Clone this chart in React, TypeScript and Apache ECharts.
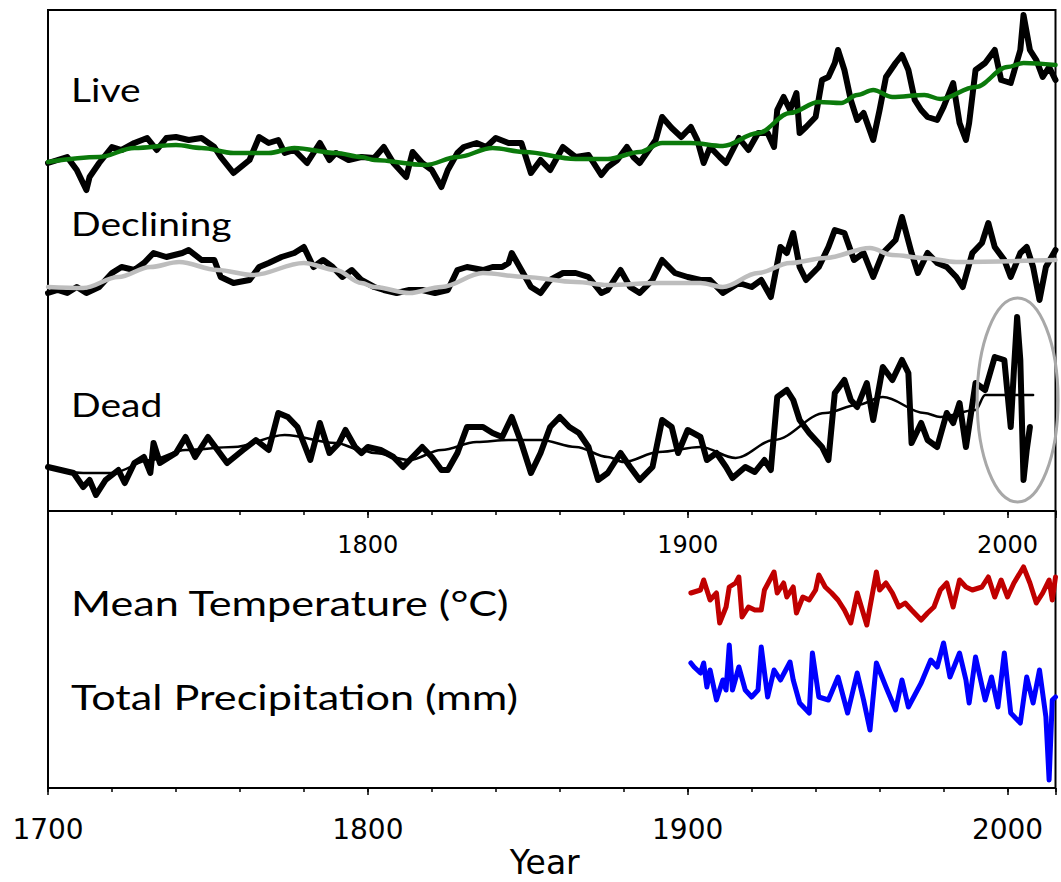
import React, { useEffect, useRef } from "react";
import * as echarts from "echarts";

// Ring-width index chronologies by tree status: [year, index]
const liveRwi: [number, number][] = [
  [1700, 0.985], [1706, 1.015], [1709, 0.95], [1712, 0.85], [1713, 0.915], [1716, 0.985],
  [1720, 1.065], [1723, 1.05], [1727, 1.085], [1731, 1.11], [1734, 1.05], [1737, 1.11],
  [1740, 1.115], [1744, 1.1], [1748, 1.11], [1752, 1.065], [1754, 1.015], [1758, 0.935],
  [1763, 1.0], [1766, 1.115], [1769, 1.085], [1772, 1.1], [1774, 1.035], [1777, 1.05],
  [1781, 0.985], [1785, 1.085], [1788, 1.0], [1790, 1.035], [1794, 1.0], [1798, 1.015],
  [1802, 1.01], [1805, 1.065], [1808, 0.985], [1812, 0.915], [1814, 1.04], [1817, 0.985],
  [1820, 0.95], [1823, 0.865], [1825, 0.95], [1828, 1.035], [1830, 1.065], [1834, 1.085],
  [1837, 1.065], [1840, 1.11], [1844, 1.085], [1848, 1.085], [1851, 0.935], [1854, 1.0],
  [1857, 0.95], [1861, 1.065], [1865, 1.015], [1869, 1.025], [1873, 0.925], [1875, 0.965],
  [1878, 1.0], [1881, 1.065], [1883, 1.015], [1885, 0.985], [1890, 1.1], [1892, 1.215],
  [1895, 1.16], [1898, 1.115], [1901, 1.165], [1903, 1.1], [1905, 0.985], [1907, 1.065],
  [1910, 1.015], [1912, 0.985], [1916, 1.11], [1919, 1.05], [1922, 1.135], [1925, 1.135],
  [1927, 1.065], [1928, 1.25], [1930, 1.315], [1932, 1.25], [1934, 1.335], [1935, 1.135],
  [1937, 1.165], [1940, 1.215], [1942, 1.4], [1944, 1.415], [1946, 1.485], [1947, 1.55],
  [1949, 1.45], [1951, 1.3], [1953, 1.2], [1955, 1.235], [1958, 1.1], [1960, 1.25],
  [1962, 1.415], [1965, 1.485], [1967, 1.525], [1969, 1.45], [1971, 1.3], [1973, 1.25],
  [1975, 1.215], [1978, 1.2], [1980, 1.265], [1983, 1.385], [1985, 1.185], [1987, 1.1],
  [1988, 1.185], [1990, 1.45], [1993, 1.485], [1996, 1.55], [1998, 1.4], [2001, 1.385],
  [2004, 1.55], [2005, 1.725], [2007, 1.55], [2009, 1.5], [2011, 1.415], [2013, 1.465],
  [2015, 1.4],
];
const liveSpline: [number, number][] = [
  [1700, 0.99], [1716, 1.015], [1727, 1.06], [1740, 1.075], [1748, 1.06], [1758, 1.035],
  [1769, 1.035], [1777, 1.06], [1790, 1.035], [1798, 1.015], [1802, 1.0], [1818, 0.975],
  [1828, 1.015], [1839, 1.06], [1849, 1.04], [1865, 1.005], [1875, 1.005], [1885, 1.04],
  [1892, 1.085], [1901, 1.085], [1911, 1.07], [1922, 1.135], [1932, 1.235], [1941, 1.29],
  [1948, 1.285], [1953, 1.325], [1958, 1.35], [1964, 1.315], [1974, 1.325], [1979, 1.305],
  [1990, 1.365], [2000, 1.465], [2005, 1.485], [2015, 1.475],
];

const decliningRwi: [number, number][] = [
  [1700, 0.935], [1703, 0.95], [1706, 0.935], [1709, 0.965], [1712, 0.935], [1716, 0.965],
  [1720, 1.035], [1723, 1.065], [1727, 1.05], [1730, 1.085], [1733, 1.135], [1737, 1.115],
  [1742, 1.135], [1744, 1.15], [1748, 1.1], [1752, 1.1], [1754, 1.015], [1758, 0.985],
  [1763, 1.0], [1766, 1.065], [1769, 1.085], [1773, 1.115], [1777, 1.135], [1780, 1.165],
  [1783, 1.065], [1786, 1.1], [1789, 1.065], [1792, 1.015], [1795, 1.05], [1798, 1.0],
  [1802, 0.965], [1805, 0.95], [1809, 0.935], [1813, 0.95], [1817, 0.95], [1821, 0.935],
  [1825, 0.95], [1828, 1.05], [1831, 1.065], [1836, 1.05], [1839, 1.065], [1842, 1.065],
  [1844, 1.085], [1845, 1.135], [1848, 1.05], [1851, 0.965], [1854, 0.935], [1857, 1.0],
  [1861, 1.035], [1865, 1.035], [1869, 1.015], [1873, 0.935], [1875, 0.95], [1879, 1.05],
  [1882, 0.965], [1885, 0.935], [1889, 1.0], [1892, 1.1], [1896, 1.035], [1900, 1.015],
  [1904, 1.0], [1907, 1.0], [1911, 0.935], [1916, 0.985], [1920, 0.965], [1923, 1.0],
  [1926, 0.915], [1929, 1.165], [1931, 1.135], [1933, 1.235], [1935, 1.065], [1937, 1.0],
  [1941, 1.065], [1944, 1.165], [1946, 1.25], [1949, 1.235], [1952, 1.1], [1955, 1.135],
  [1958, 1.015], [1961, 1.135], [1965, 1.2], [1967, 1.315], [1970, 1.135], [1972, 1.035],
  [1975, 1.135], [1978, 1.085], [1981, 1.065], [1984, 1.015], [1986, 0.965], [1989, 1.135],
  [1992, 1.185], [1994, 1.285], [1996, 1.165], [1999, 1.1], [2001, 1.015], [2004, 1.135],
  [2006, 1.165], [2008, 1.065], [2010, 0.9], [2012, 1.065], [2015, 1.15],
];
const decliningSpline: [number, number][] = [
  [1700, 0.965], [1711, 0.96], [1722, 1.015], [1732, 1.065], [1741, 1.09], [1753, 1.05],
  [1764, 1.025], [1780, 1.085], [1790, 1.05], [1798, 0.985], [1802, 0.965], [1813, 0.935],
  [1823, 0.965], [1836, 1.035], [1849, 1.015], [1865, 0.99], [1875, 0.975], [1891, 0.985],
  [1904, 0.985], [1911, 0.965], [1922, 1.035], [1932, 1.085], [1943, 1.11], [1957, 1.16],
  [1964, 1.125], [1974, 1.11], [1984, 1.09], [2015, 1.1],
];

const deadRwi: [number, number][] = [
  [1700, 0.915], [1704, 0.9], [1708, 0.885], [1711, 0.815], [1713, 0.85], [1715, 0.775],
  [1718, 0.85], [1722, 0.9], [1724, 0.835], [1727, 0.935], [1730, 0.965], [1732, 0.885],
  [1733, 1.035], [1735, 0.935], [1740, 0.985], [1743, 1.065], [1746, 0.965], [1750, 1.065],
  [1753, 1.0], [1756, 0.935], [1761, 1.0], [1765, 1.05], [1769, 1.0], [1772, 1.185],
  [1775, 1.165], [1778, 1.115], [1782, 0.95], [1785, 1.135], [1788, 0.985], [1791, 1.035],
  [1793, 1.1], [1796, 1.015], [1798, 0.985], [1800, 1.015], [1804, 1.0], [1808, 0.965],
  [1811, 0.915], [1814, 0.965], [1817, 1.015], [1820, 0.965], [1823, 0.9], [1825, 0.9],
  [1828, 0.985], [1831, 1.115], [1836, 1.115], [1839, 1.085], [1842, 1.065], [1845, 1.165],
  [1848, 1.035], [1851, 0.885], [1854, 0.985], [1857, 1.115], [1860, 1.165], [1863, 1.115],
  [1866, 1.085], [1869, 1.015], [1872, 0.85], [1875, 0.885], [1879, 0.985], [1882, 0.915],
  [1885, 0.85], [1889, 0.915], [1892, 1.15], [1895, 1.115], [1897, 0.985], [1900, 1.1],
  [1904, 1.065], [1906, 0.95], [1909, 0.985], [1912, 0.915], [1914, 0.86], [1918, 0.915],
  [1921, 0.89], [1924, 0.95], [1926, 0.9], [1928, 1.265], [1931, 1.3], [1933, 1.25],
  [1935, 1.15], [1938, 1.085], [1942, 1.015], [1944, 0.95], [1946, 1.285], [1949, 1.35],
  [1951, 1.25], [1953, 1.215], [1956, 1.335], [1958, 1.15], [1961, 1.415], [1964, 1.35],
  [1967, 1.45], [1969, 1.385], [1970, 1.035], [1973, 1.135], [1975, 1.05], [1978, 1.015],
  [1981, 1.185], [1983, 1.135], [1985, 1.235], [1987, 1.015], [1990, 1.335], [1993, 1.3],
  [1996, 1.465], [1999, 1.45], [2001, 1.115], [2002, 1.4], [2003, 1.665], [2004, 1.45],
  [2005, 0.85], [2006, 1.0], [2007, 1.115],
];
const deadSpline: [number, number][] = [
  [1700, 0.915], [1711, 0.885], [1720, 0.885], [1732, 0.95], [1743, 1.0], [1758, 1.015],
  [1774, 1.075], [1790, 1.035], [1798, 1.0], [1802, 0.985], [1813, 0.95], [1823, 1.0],
  [1834, 1.04], [1844, 1.05], [1854, 1.05], [1865, 1.015], [1875, 0.965], [1880, 0.94],
  [1891, 0.99], [1904, 1.015], [1915, 0.96], [1927, 1.05], [1943, 1.185], [1953, 1.225],
  [1961, 1.265], [1974, 1.185], [1979, 1.165], [1990, 1.2], [1993, 1.275], [2008, 1.275],
];

// Instrumental climate record, [year, value]
const meanTemperature: [number, number][] = [
  [1901, 5.05], [1904, 5.125], [1905, 5.375], [1907, 4.875], [1909, 5.05], [1910, 4.3],
  [1912, 4.7], [1913, 5.2], [1915, 5.3], [1916, 5.45], [1917, 4.45], [1919, 4.7],
  [1921, 4.625], [1923, 4.625], [1924, 5.125], [1927, 5.575], [1928, 5.05], [1930, 5.3],
  [1931, 4.95], [1933, 5.2], [1934, 4.55], [1936, 4.95], [1938, 4.875], [1940, 5.125],
  [1941, 5.5], [1943, 5.2], [1945, 5.05], [1947, 4.875], [1949, 4.625], [1951, 4.3],
  [1953, 5.05], [1956, 4.25], [1957, 4.7], [1959, 5.575], [1960, 5.125], [1962, 5.3],
  [1964, 5.05], [1966, 4.7], [1968, 4.8], [1970, 4.625], [1973, 4.375], [1975, 4.55],
  [1977, 4.7], [1979, 5.125], [1981, 5.3], [1983, 4.7], [1985, 5.375], [1987, 5.2],
  [1989, 5.125], [1992, 5.2], [1994, 5.45], [1996, 4.95], [1998, 5.375], [2000, 4.95],
  [2002, 5.3], [2005, 5.7], [2007, 5.3], [2009, 4.8], [2011, 5.05], [2013, 5.375],
  [2014, 4.875], [2015, 5.45],
];
const totalPrecipitation: [number, number][] = [
  [1901, 868], [1902, 852], [1904, 828], [1905, 868], [1906, 772], [1907, 840], [1909, 720],
  [1911, 800], [1912, 760], [1913, 940], [1914, 760], [1916, 852], [1918, 760], [1920, 732],
  [1922, 760], [1923, 932], [1925, 732], [1927, 840], [1929, 800], [1932, 872], [1933, 800],
  [1935, 708], [1938, 668], [1939, 908], [1941, 732], [1944, 720], [1947, 812], [1950, 668],
  [1953, 828], [1955, 720], [1957, 600], [1959, 868], [1962, 772], [1965, 680], [1967, 800],
  [1969, 692], [1973, 788], [1976, 880], [1978, 852], [1980, 948], [1982, 812], [1985, 908],
  [1987, 800], [1988, 708], [1990, 892], [1993, 720], [1995, 812], [1997, 692], [1999, 908],
  [2001, 668], [2004, 628], [2006, 812], [2008, 708], [2010, 840], [2012, 652], [2013, 400],
  [2014, 720], [2015, 732],
];

// Axis labels
const innerTickYears = [1800, 1900, 2000];
const outerTickYears = [1700, 1800, 1900, 2000];
const chronologyLabels = ["Live", "Declining", "Dead"];
const climateLabels = ["Mean Temperature (°C)", "Total Precipitation (mm)"];
const xAxisTitle = "Year";

// Recent Dead-chronology years set off by an ellipse: year span, index span
const highlightYears = [1990.5, 2015.8];
const highlightIndex = [0.74, 1.76];

const YEAR_MIN = 1700;
const YEAR_MAX = 2015;
const TICK_FONT = "DejaVu Sans";
const LABEL_FONT = "Lato";

function lineSeries(
  name: string,
  data: [number, number][],
  xAxisIndex: number,
  yAxisIndex: number,
  color: string,
  width: number,
  smooth: boolean,
  z: number
) {
  return {
    name,
    type: "line",
    data,
    xAxisIndex,
    yAxisIndex,
    showSymbol: false,
    symbol: "none",
    smooth: smooth ? 0.35 : false,
    smoothMonotone: smooth ? "x" : undefined,
    silent: true,
    z,
    lineStyle: { color, width, join: "round", cap: "round" },
  };
}

function labelText(text: string, y: number, size: number, stretch: number) {
  return {
    type: "text",
    x: 71,
    y,
    scaleX: stretch,
    silent: true,
    style: {
      text,
      fontFamily: LABEL_FONT,
      fontSize: size,
      fill: "#000",
      textAlign: "left",
      textVerticalAlign: "middle",
    },
  };
}

export default function App() {
  const ref = useRef<HTMLDivElement>(null);

  useEffect(() => {
    if (!ref.current) return;
    const chart = echarts.init(ref.current, null, { renderer: "svg" });

    const tickStyle = { color: "#000", width: 1.5 };
    const grids = [
      { left: 48, top: 10, width: 1007.5, height: 501, show: true, borderColor: "#000", borderWidth: 2 },
      { left: 48, top: 511, width: 1007.5, height: 277, show: true, borderColor: "#000", borderWidth: 2 },
    ];
    const baseX = { type: "value", min: YEAR_MIN, max: YEAR_MAX, splitLine: { show: false }, axisLine: { show: false } };

    const option: any = {
      animation: false,
      backgroundColor: "#ffffff",
      grid: grids,
      xAxis: [
        { ...baseX, gridIndex: 0, show: false },
        {
          ...baseX, gridIndex: 1, position: "top", interval: 20,
          axisTick: { show: true, inside: true, length: 4, lineStyle: tickStyle },
          axisLabel: { show: false },
        },
        {
          ...baseX, gridIndex: 1, position: "top", interval: 100,
          axisTick: { show: true, inside: true, length: 7, lineStyle: tickStyle },
          axisLabel: {
            show: true, inside: true, margin: 22, color: "#000", fontFamily: TICK_FONT, fontSize: 24,
            formatter: (v: number) => (innerTickYears.includes(v) ? String(v) : ""),
          },
        },
        {
          ...baseX, gridIndex: 1, position: "bottom", interval: 20,
          axisTick: { show: true, inside: false, length: 4, lineStyle: tickStyle },
          axisLabel: { show: false },
        },
        {
          ...baseX, gridIndex: 1, position: "bottom", interval: 100,
          axisTick: { show: true, inside: false, length: 7, lineStyle: tickStyle },
          axisLabel: {
            show: true, margin: 27, color: "#000", fontFamily: TICK_FONT, fontSize: 28,
            formatter: (v: number) => (outerTickYears.includes(v) ? String(v) : ""),
          },
          name: xAxisTitle,
          nameLocation: "middle",
          nameGap: 58,
          nameTextStyle: { color: "#000", fontFamily: TICK_FONT, fontSize: 33, padding: [0, 14, 0, 0] },
        },
      ],
      yAxis: [
        { type: "value", gridIndex: 0, min: -0.755, max: 1.75, show: false },
        { type: "value", gridIndex: 0, min: -0.155, max: 2.35, show: false },
        { type: "value", gridIndex: 0, min: 0.695, max: 3.2, show: false },
        { type: "value", gridIndex: 1, min: 0.175, max: 7.1, show: false },
        { type: "value", gridIndex: 1, min: 368, max: 1476, show: false },
      ],
      series: [
        lineSeries("Live", liveRwi, 0, 0, "#000000", 6, false, 2),
        lineSeries("Live spline", liveSpline, 0, 0, "#0b7a0b", 4.5, true, 3),
        lineSeries("Declining", decliningRwi, 0, 1, "#000000", 6, false, 2),
        lineSeries("Declining spline", decliningSpline, 0, 1, "#bdbdbd", 4.5, true, 3),
        lineSeries("Dead", deadRwi, 0, 2, "#000000", 6, false, 2),
        lineSeries("Dead spline", deadSpline, 0, 2, "#000000", 2.5, true, 3),
        lineSeries("Mean Temperature", meanTemperature, 4, 3, "#c00000", 5, false, 2),
        lineSeries("Total Precipitation", totalPrecipitation, 4, 4, "#0000ff", 5, false, 2),
      ],
    };
    chart.setOption(option);

    const topLeft = chart.convertToPixel({ xAxisIndex: 0, yAxisIndex: 2 }, [highlightYears[0], highlightIndex[1]]) as number[];
    const bottomRight = chart.convertToPixel({ xAxisIndex: 0, yAxisIndex: 2 }, [highlightYears[1], highlightIndex[0]]) as number[];

    chart.setOption({
      graphic: [
        labelText(chronologyLabels[0], 90, 32, 1.22),
        labelText(chronologyLabels[1], 224, 32, 1.22),
        labelText(chronologyLabels[2], 405, 32, 1.22),
        labelText(climateLabels[0], 603, 34, 1.27),
        labelText(climateLabels[1], 697, 34, 1.27),
        {
          type: "ellipse",
          silent: true,
          z: 10,
          shape: {
            cx: (topLeft[0] + bottomRight[0]) / 2,
            cy: (topLeft[1] + bottomRight[1]) / 2,
            rx: (bottomRight[0] - topLeft[0]) / 2,
            ry: (bottomRight[1] - topLeft[1]) / 2,
          },
          style: { fill: "none", stroke: "#a8a8a8", lineWidth: 3 },
        },
      ],
    });

    return () => chart.dispose();
  }, []);

  return (
    <div
      ref={ref}
      style={{ position: "fixed", left: 0, top: 0, width: 1061, height: 882, background: "#fff" }}
    />
  );
}
